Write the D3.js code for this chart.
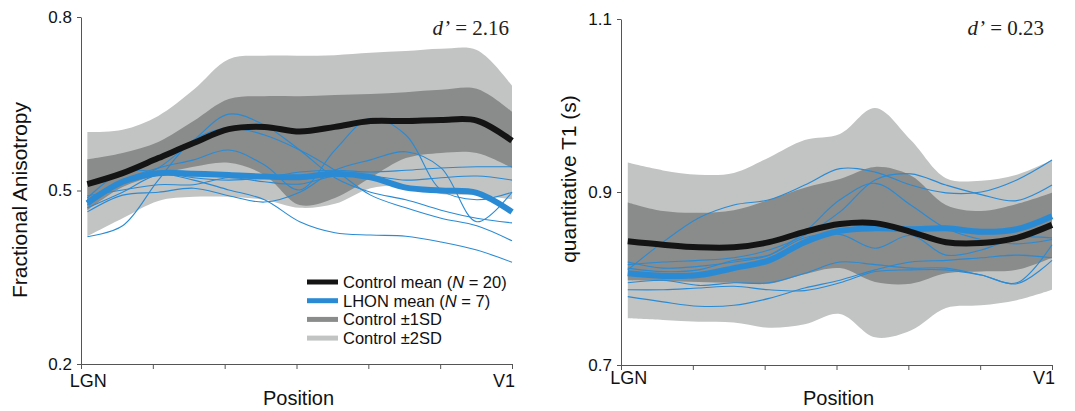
<!DOCTYPE html>
<html>
<head>
<meta charset="utf-8">
<script src="https://cdn.jsdelivr.net/npm/d3@7"></script>
<style>
  body { margin: 0; background: #fff; }
  svg { display: block; font-family: "Liberation Sans", Arial, sans-serif; }
</style>
</head>
<body>
<script>
// sampling positions along the optic radiation (0 = LGN, 1 = V1)
const positions = [0, 0.083, 0.167, 0.25, 0.333, 0.417, 0.5, 0.583, 0.667, 0.75, 0.833, 0.917, 1];
const xTickLabels = ["LGN", "V1"];

// Fractional anisotropy panel
const faTicks = [0.2, 0.5, 0.8];
const faCtrlMean = [0.511, 0.530, 0.556, 0.582, 0.606, 0.610, 0.602, 0.610, 0.620, 0.620, 0.622, 0.621, 0.586];
const faCtrl1Hi = [0.554, 0.565, 0.584, 0.620, 0.658, 0.663, 0.663, 0.665, 0.667, 0.670, 0.674, 0.676, 0.636];
const faCtrl1Lo = [0.466, 0.506, 0.527, 0.541, 0.548, 0.527, 0.475, 0.487, 0.522, 0.556, 0.565, 0.565, 0.539];
const faCtrl2Hi = [0.601, 0.605, 0.629, 0.674, 0.727, 0.733, 0.733, 0.734, 0.738, 0.741, 0.745, 0.743, 0.681];
const faCtrl2Lo = [0.421, 0.452, 0.482, 0.489, 0.489, 0.484, 0.470, 0.477, 0.504, 0.508, 0.494, 0.492, 0.485];
const faLhonMean = [0.478, 0.515, 0.530, 0.529, 0.527, 0.524, 0.523, 0.529, 0.523, 0.505, 0.500, 0.496, 0.463];
const faLhon = [
  [0.420, 0.439, 0.518, 0.587, 0.608, 0.596, 0.570, 0.535, 0.492, 0.470, 0.452, 0.439, 0.413],
  [0.484, 0.518, 0.539, 0.553, 0.570, 0.544, 0.501, 0.570, 0.625, 0.596, 0.501, 0.484, 0.497],
  [0.475, 0.513, 0.539, 0.587, 0.632, 0.613, 0.570, 0.522, 0.497, 0.484, 0.466, 0.452, 0.444],
  [0.487, 0.532, 0.532, 0.522, 0.518, 0.522, 0.532, 0.535, 0.532, 0.535, 0.539, 0.541, 0.541],
  [0.491, 0.501, 0.510, 0.510, 0.522, 0.515, 0.511, 0.525, 0.525, 0.518, 0.522, 0.525, 0.518],
  [0.463, 0.492, 0.497, 0.504, 0.491, 0.480, 0.497, 0.535, 0.553, 0.567, 0.539, 0.446, 0.497],
  [0.470, 0.497, 0.527, 0.518, 0.501, 0.484, 0.446, 0.427, 0.423, 0.421, 0.411, 0.397, 0.376]
];

// quantitative T1 panel
const t1Ticks = [0.7, 0.9, 1.1];
const t1CtrlMean = [0.843, 0.839, 0.836, 0.836, 0.842, 0.854, 0.863, 0.864, 0.854, 0.842, 0.841, 0.847, 0.862];
const t1Ctrl1Hi = [0.888, 0.878, 0.876, 0.879, 0.891, 0.905, 0.915, 0.929, 0.919, 0.885, 0.878, 0.886, 0.899];
const t1Ctrl1Lo = [0.798, 0.797, 0.796, 0.795, 0.794, 0.805, 0.812, 0.796, 0.794, 0.806, 0.808, 0.810, 0.824];
const t1Ctrl2Hi = [0.934, 0.925, 0.920, 0.922, 0.940, 0.960, 0.967, 0.997, 0.960, 0.916, 0.913, 0.920, 0.937];
const t1Ctrl2Lo = [0.754, 0.752, 0.750, 0.749, 0.743, 0.747, 0.759, 0.732, 0.740, 0.766, 0.769, 0.775, 0.787];
const t1LhonMean = [0.806, 0.803, 0.804, 0.812, 0.821, 0.842, 0.855, 0.858, 0.857, 0.858, 0.854, 0.857, 0.872];
const t1Lhon = [
  [0.810, 0.842, 0.870, 0.885, 0.891, 0.908, 0.927, 0.923, 0.908, 0.899, 0.900, 0.914, 0.937],
  [0.816, 0.819, 0.821, 0.824, 0.833, 0.850, 0.877, 0.914, 0.921, 0.908, 0.897, 0.890, 0.908],
  [0.819, 0.812, 0.814, 0.819, 0.827, 0.854, 0.891, 0.910, 0.885, 0.858, 0.845, 0.840, 0.845],
  [0.779, 0.773, 0.768, 0.769, 0.777, 0.789, 0.798, 0.810, 0.819, 0.821, 0.824, 0.827, 0.824],
  [0.787, 0.787, 0.789, 0.791, 0.787, 0.786, 0.795, 0.808, 0.810, 0.810, 0.804, 0.795, 0.839],
  [0.812, 0.808, 0.810, 0.821, 0.827, 0.847, 0.851, 0.835, 0.850, 0.827, 0.833, 0.847, 0.847],
  [0.795, 0.798, 0.792, 0.795, 0.795, 0.806, 0.819, 0.816, 0.812, 0.812, 0.804, 0.794, 0.821]
];

const legendLabels = ["Control mean (N = 20)", "LHON mean (N = 7)", "Control ±1SD", "Control ±2SD"];

const blue = "#2a8bd4";
const black = "#141414";
const darkGray = "#8a8b8b";
const lightGray = "#c2c3c3";
const axisColor = "#555";

const svg = d3.select("body").append("svg")
  .attr("width", 1075)
  .attr("height", 411);

function drawPanel(p) {
  const x = d3.scaleLinear().domain([-p.xPad, 1]).range([p.x0, p.x1]);
  const y = d3.scaleLinear().domain(p.yDomain).range([p.yBot, p.yTop]);
  const g = svg.append("g");

  const band = (lo, hi) => d3.area()
    .x((d, i) => x(positions[i]))
    .y0((d, i) => y(lo[i]))
    .y1((d, i) => y(hi[i]))
    .curve(d3.curveCatmullRom)(positions);

  g.append("path").attr("d", band(p.sd2Lo, p.sd2Hi)).attr("fill", lightGray);
  g.append("path").attr("d", band(p.sd1Lo, p.sd1Hi)).attr("fill", darkGray);

  const line = d3.line()
    .x((d, i) => x(positions[i]))
    .y(d => y(d))
    .curve(d3.curveCatmullRom);

  g.selectAll(".subj")
    .data(p.subjects)
    .enter()
    .append("path")
    .attr("d", line)
    .attr("fill", "none")
    .attr("stroke", blue)
    .attr("stroke-width", 1.1);

  g.append("path").attr("d", line(p.lhonMean))
    .attr("fill", "none").attr("stroke", blue).attr("stroke-width", 6);
  g.append("path").attr("d", line(p.ctrlMean))
    .attr("fill", "none").attr("stroke", black).attr("stroke-width", 6);

  // axes
  const yAxis = g.append("g")
    .attr("transform", `translate(${p.x0},0)`)
    .call(d3.axisLeft(y).tickValues(p.ticks).tickSize(4).tickSizeOuter(0).tickPadding(5).tickFormat(d3.format(".1f")));
  const xTicks = d3.range(7).map(i => -p.xPad + i * (1 + p.xPad) / 6);
  const xAxis = g.append("g")
    .attr("transform", `translate(0,${p.yBot})`)
    .call(d3.axisBottom(x).tickValues(xTicks).tickSize(5).tickSizeOuter(0).tickFormat(""));
  [yAxis, xAxis].forEach(a => {
    a.select(".domain").attr("stroke", axisColor);
    a.selectAll(".tick line").attr("stroke", axisColor);
    a.selectAll("text").attr("fill", "#111").style("font-size", "17px")
      .style("font-family", "'Liberation Sans', Arial, sans-serif");
  });

  g.append("text").text(xTickLabels[0])
    .attr("x", x(0) + 1).attr("y", p.lgnY)
    .attr("text-anchor", "middle").style("font-size", "18px").attr("fill", "#111");
  g.append("text").text(xTickLabels[1])
    .attr("x", p.x1 + 3).attr("y", p.lgnY)
    .attr("text-anchor", "end").style("font-size", "18px").attr("fill", "#111");

  g.append("text").text("Position")
    .attr("x", (p.x0 + p.x1) / 2 + 2).attr("y", p.posY)
    .attr("text-anchor", "middle").style("font-size", "20px").attr("fill", "#111");

  g.append("text").text(p.yLabel)
    .attr("transform", `translate(${p.yLabelX},${p.yLabelY}) rotate(-90)`)
    .attr("text-anchor", "middle").style("font-size", "21px").attr("fill", "#111");

  const dl = g.append("text")
    .attr("x", p.dX).attr("y", 35)
    .attr("text-anchor", "end")
    .style("font-family", "'Liberation Serif', 'Times New Roman', serif")
    .style("font-size", "21px").attr("fill", "#222");
  dl.append("tspan").style("font-style", "italic").text("d\u2019");
  dl.append("tspan").text(" = " + p.dPrime);
}

drawPanel({
  x0: 81, x1: 512, xPad: 0.015, yTop: 17, yBot: 364, yDomain: [0.2, 0.8],
  ticks: faTicks, sd1Lo: faCtrl1Lo, sd1Hi: faCtrl1Hi, sd2Lo: faCtrl2Lo, sd2Hi: faCtrl2Hi,
  ctrlMean: faCtrlMean, lhonMean: faLhonMean, subjects: faLhon,
  yLabel: "Fractional Anisotropy", yLabelX: 27, yLabelY: 200,
  lgnY: 387, posY: 405, dX: 509, dPrime: "2.16"
});

drawPanel({
  x0: 621, x1: 1052, xPad: 0.016, yTop: 19, yBot: 365, yDomain: [0.7, 1.1],
  ticks: t1Ticks, sd1Lo: t1Ctrl1Lo, sd1Hi: t1Ctrl1Hi, sd2Lo: t1Ctrl2Lo, sd2Hi: t1Ctrl2Hi,
  ctrlMean: t1CtrlMean, lhonMean: t1LhonMean, subjects: t1Lhon,
  yLabel: "quantitative T1 (s)", yLabelX: 576, yLabelY: 179,
  lgnY: 384, posY: 405, dX: 1044, dPrime: "0.23"
});

// legend (left panel)
const legendColors = [black, blue, darkGray, lightGray];
const legend = svg.append("g").attr("transform", "translate(307,282)");
legendLabels.forEach((label, i) => {
  const row = legend.append("g").attr("transform", `translate(0,${i * 18.7})`);
  row.append("line")
    .attr("x1", 0).attr("x2", 31).attr("y1", 0).attr("y2", 0)
    .attr("stroke", legendColors[i]).attr("stroke-width", 5);
  const t = row.append("text").attr("x", 36).attr("y", 6)
    .style("font-size", "16.5px").attr("fill", "#111");
  const m = label.match(/^(.*\()N( = .*)$/);
  if (m) {
    t.append("tspan").text(m[1]);
    t.append("tspan").style("font-style", "italic").text("N");
    t.append("tspan").text(m[2]);
  } else {
    t.text(label);
  }
});
</script>
</body>
</html>
